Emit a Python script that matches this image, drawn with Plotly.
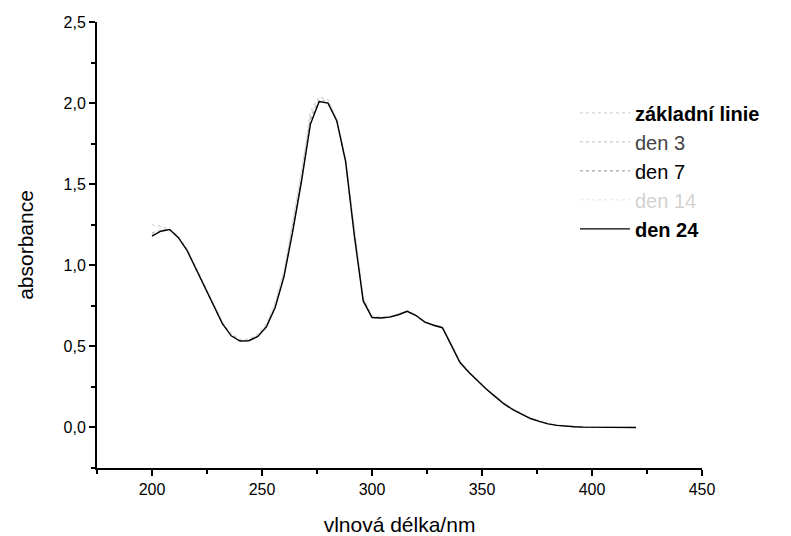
import plotly.graph_objects as go

# Wavelength grid shared by all spectra (nm)
wavelength = [200, 204, 208, 212, 216, 220, 224, 228, 232, 236, 240, 244, 248, 252,
              256, 260, 264, 268, 272, 276, 280, 284, 288, 292, 296, 300, 304, 308,
              312, 316, 320, 324, 328, 332, 336, 340, 344, 348, 352, 356, 360, 364,
              368, 372, 376, 380, 384, 388, 392, 396, 400, 404, 408, 412, 416, 420]

# Absorbance values of each measurement
zakladni_linie = [1.25, 1.24, 1.22, 1.18, 1.10, 0.99, 0.87, 0.76, 0.65, 0.58, 0.545, 0.545,
                  0.575, 0.64, 0.77, 0.97, 1.27, 1.59, 1.95, 2.04, 2.02, 1.90, 1.65, 1.22,
                  0.80, 0.69, 0.68, 0.685, 0.70, 0.72, 0.695, 0.655, 0.635, 0.62, 0.51,
                  0.41, 0.345, 0.29, 0.24, 0.195, 0.15, 0.115, 0.085, 0.06, 0.04, 0.025,
                  0.015, 0.008, 0.004, 0.002, 0.001, 0.0, 0.0, 0.0, 0.0, 0.0]
den_3 = [1.20, 1.22, 1.22, 1.17, 1.09, 0.98, 0.86, 0.75, 0.64, 0.57, 0.535, 0.537,
         0.565, 0.63, 0.76, 0.95, 1.25, 1.56, 1.92, 2.02, 2.01, 1.90, 1.66, 1.21,
         0.79, 0.68, 0.677, 0.682, 0.698, 0.718, 0.692, 0.652, 0.632, 0.618, 0.52,
         0.405, 0.345, 0.29, 0.24, 0.195, 0.15, 0.113, 0.083, 0.058, 0.039, 0.024,
         0.014, 0.008, 0.004, 0.002, 0.001, 0.0, 0.0, 0.0, 0.0, 0.0]
den_7 = [1.19, 1.21, 1.22, 1.17, 1.09, 0.98, 0.86, 0.75, 0.64, 0.57, 0.535, 0.536,
         0.562, 0.625, 0.745, 0.94, 1.23, 1.54, 1.90, 2.01, 2.00, 1.89, 1.64, 1.19,
         0.785, 0.68, 0.676, 0.681, 0.696, 0.717, 0.691, 0.651, 0.631, 0.616, 0.515,
         0.40, 0.34, 0.287, 0.237, 0.192, 0.148, 0.112, 0.082, 0.057, 0.038, 0.023,
         0.014, 0.007, 0.004, 0.002, 0.001, 0.0, 0.0, 0.0, 0.0, 0.0]
den_14 = [1.19, 1.21, 1.22, 1.17, 1.10, 0.99, 0.87, 0.76, 0.65, 0.575, 0.54, 0.54,
          0.57, 0.635, 0.76, 0.96, 1.26, 1.57, 1.93, 2.03, 2.01, 1.90, 1.65, 1.21,
          0.79, 0.685, 0.68, 0.684, 0.70, 0.72, 0.694, 0.654, 0.634, 0.62, 0.52,
          0.41, 0.35, 0.295, 0.245, 0.2, 0.155, 0.118, 0.087, 0.062, 0.042, 0.026,
          0.016, 0.009, 0.005, 0.003, 0.001, 0.0, 0.0, 0.0, 0.0, 0.0]
den_24 = [1.18, 1.21, 1.22, 1.17, 1.09, 0.98, 0.86, 0.75, 0.64, 0.565, 0.533, 0.535,
          0.56, 0.62, 0.74, 0.93, 1.21, 1.52, 1.87, 2.01, 2.00, 1.89, 1.64, 1.18,
          0.78, 0.678, 0.675, 0.68, 0.695, 0.716, 0.69, 0.65, 0.63, 0.615, 0.51,
          0.40, 0.34, 0.285, 0.235, 0.19, 0.145, 0.11, 0.08, 0.055, 0.037, 0.022,
          0.013, 0.007, 0.004, 0.002, 0.001, 0.0, 0.0, 0.0, 0.0, 0.0]

series = [
    ("<b>základní linie</b>", zakladni_linie, "#d4d4d4", "dot", 1.2),
    ("<span style='color:#444444'>den 3</span>", den_3, "#bdbdbd", "dot", 1.0),
    ("den 7", den_7, "#8c8c8c", "dot", 1.0),
    ("<span style='color:#d2d2d2'>den 14</span>", den_14, "#e2e2e2", "dot", 1.0),
    ("<b>den 24</b>", den_24, "#000000", "solid", 1.4),
]

FONT = "Liberation Sans, Arial, sans-serif"

fig = go.Figure()
for name, values, color, dash, width in series:
    fig.add_trace(go.Scatter(
        x=wavelength, y=values, mode="lines", name=name,
        line=dict(color=color, dash=dash, width=width),
    ))

axis_common = dict(
    showline=True, linecolor="black", linewidth=2, mirror=False,
    showgrid=False, zeroline=False, automargin=False,
    ticks="outside", ticklen=6, tickwidth=2, tickcolor="black",
    tickfont=dict(family=FONT, size=16, color="black"),
)

fig.update_xaxes(
    range=[175, 450], tick0=200, dtick=50,
    minor=dict(dtick=25, tick0=175, ticks="outside", ticklen=4, tickwidth=2, tickcolor="black"),
    title=dict(text="vlnová délka/nm", font=dict(family=FONT, size=21, color="black"), standoff=20),
    **axis_common,
)
fig.update_yaxes(
    range=[-0.25, 2.5], tick0=0, dtick=0.5, tickformat=".1f",
    minor=dict(dtick=0.25, tick0=0, ticks="outside", ticklen=4, tickwidth=2, tickcolor="black"),
    title=dict(text="absorbance", font=dict(family=FONT, size=21, color="black"), standoff=24),
    **axis_common,
)

fig.update_layout(
    width=791, height=536,
    margin=dict(l=97, r=89, t=22, b=68),
    paper_bgcolor="white", plot_bgcolor="white",
    separators=", ",
    font=dict(family=FONT, color="black"),
    legend=dict(
        x=0.79, y=0.84, xanchor="left", yanchor="top",
        font=dict(family=FONT, size=20, color="black"),
        bgcolor="rgba(0,0,0,0)", itemwidth=50, tracegroupgap=0,
    ),
    showlegend=True,
)

fig.write_html("out.html")
